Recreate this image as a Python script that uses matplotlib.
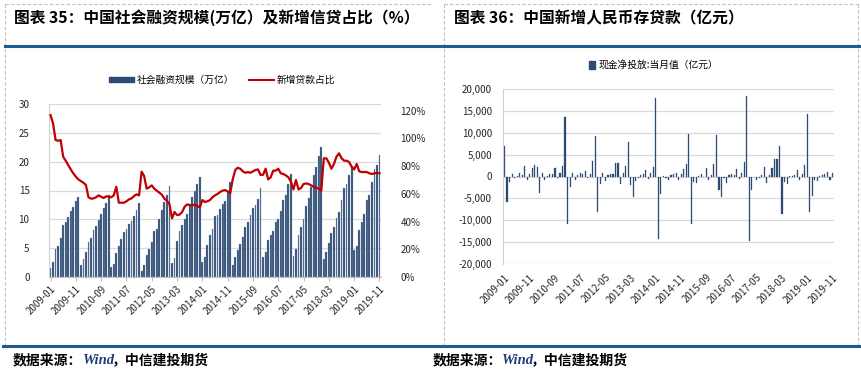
import matplotlib
matplotlib.use('Agg')
import matplotlib.pyplot as plt
from matplotlib.lines import Line2D
from matplotlib.patches import Patch
from matplotlib.ticker import FuncFormatter
import numpy as np

plt.rcParams['font.family'] = ['Noto Sans CJK SC', 'DejaVu Sans']

# 月份 2009-01 ~ 2019-11
months = [f"{y}-{m:02d}" for y in range(2009, 2020) for m in range(1, 13)][:131]

# 社会融资规模 累计值（万亿）
tsf = [1.5, 2.6, 4.8, 5.3, 6.7, 9.0, 9.6, 10.4, 11.5, 12.1, 13.1, 13.9,
       2.0, 3.2, 4.4, 6.0, 6.8, 8.1, 8.8, 9.8, 11.0, 11.9, 12.9, 14.2,
       1.7, 2.3, 4.2, 5.4, 6.6, 7.8, 8.3, 9.2, 9.7, 10.5, 11.6, 12.8,
       1.0, 2.0, 3.8, 4.8, 6.0, 7.9, 8.4, 10.1, 11.6, 13.0, 14.3, 15.8,
       2.5, 3.3, 6.2, 7.9, 9.1, 10.1, 11.0, 12.4, 13.9, 14.9, 16.1, 17.3,
       2.6, 3.5, 5.6, 7.2, 8.3, 10.5, 10.8, 11.8, 12.6, 13.2, 14.8, 16.4,
       2.0, 3.4, 4.6, 5.8, 6.9, 8.6, 9.6, 10.7, 11.9, 12.4, 13.6, 15.4,
       3.5, 4.3, 6.5, 7.3, 7.9, 9.6, 10.0, 11.5, 13.4, 14.3, 16.2, 17.8,
       3.6, 4.8, 7.2, 8.7, 10.0, 12.3, 13.7, 15.6, 17.7, 19.0, 20.9, 22.6,
       3.1, 4.3, 5.9, 7.6, 8.6, 10.2, 11.3, 13.3, 15.4, 16.1, 17.7, 19.3,
       4.6, 5.3, 8.1, 9.5, 11.0, 13.4, 14.3, 16.4, 18.7, 19.5, 21.2]

# 新增贷款占比（%）
loan_ratio = [116.8, 110.8, 98.8, 98.3, 98.8, 86.8, 83.9, 80.8, 77.6, 74.8, 72.4, 70.4,
              69.2, 68.0, 66.3, 57.5, 56.5, 56.7, 57.5, 58.9, 57.9, 57.0, 58.2, 57.9,
              57.5, 58.9, 65.1, 53.6, 53.6, 53.6, 54.6, 56.0, 56.7, 58.4, 59.6, 58.9,
              76.0, 72.8, 63.7, 64.7, 66.1, 63.7, 62.3, 60.8, 59.4, 56.5, 55.0, 52.6,
              42.3, 46.9, 44.7, 45.0, 46.9, 50.7, 52.4, 51.9, 51.7, 52.2, 51.2, 50.2,
              55.5, 54.1, 54.6, 55.5, 57.5, 58.9, 59.9, 61.3, 62.3, 62.7, 61.8, 60.3,
              70.4, 77.2, 78.8, 78.1, 76.2, 75.2, 75.7, 75.2, 76.2, 77.2, 77.6, 73.6,
              73.8, 78.1, 70.4, 71.9, 76.7, 76.7, 78.1, 74.8, 74.3, 73.3, 71.9, 68.8,
              63.2, 70.0, 63.2, 64.2, 67.1, 67.5, 67.1, 66.1, 65.1, 64.4, 63.7, 62.3,
              85.6, 85.6, 82.5, 78.1, 81.5, 86.8, 89.2, 85.8, 83.9, 83.9, 82.9, 79.6,
              77.6, 81.5, 76.2, 75.7, 75.7, 75.7, 74.8, 74.3, 74.8, 75.2, 74.8]

# 现金净投放:当月值（亿元）
cash = [6900, -5900, -1300, 500, -400, 200, 700, 300, 2400, -900, 600, 1900,
        2600, 2200, -3700, 700, -900, 100, 600, 500, 2000, -300, 700, 2400,
        13500, -10800, -2300, 800, -800, 400, 700, 600, 1300, -400, 500, 3500,
        9200, -8100, -1800, 700, -1100, 300, 500, 500, 3200, 3200, -1800, 900,
        2400, 7800, -2000, -4600, -1100, -300, 400, 500, 1500, -500, 800, 2200,
        17900, -14200, -4000, 200, -400, -800, 400, 600, 900, -900, 500, 1800,
        2900, 9800, -10800, -1300, -1500, 100, 600, -200, 2000, -800, 300, 2900,
        9500, -3100, -4600, -400, -1500, 300, 500, 300, 1800, -600, 700, 3400,
        18300, -14800, -3100, -200, -800, -400, 400, 2200, -1400, 400, 2000, 4100,
        4100, 7000, -8600, -1200, -1600, 100, 200, 300, 1500, -800, 600, 2700,
        14300, -8000, -4500, -900, -1100, 100, 300, 500, 1100, -800, 800]

navy = '#2D4A72'
red = '#C00000'
grid_c = '#D9D9D9'
tick_c = '#262626'
x = np.arange(len(months))
tick_idx = list(range(0, len(months), 10))

fig = plt.figure(figsize=(8.62, 3.72), dpi=100)

# 背景框、标题、蓝线
bg = fig.add_axes([0, 0, 1, 1])
bg.set_xlim(0, 862)
bg.set_ylim(372, 0)
bg.axis('off')
dash = dict(color='#BFBFBF', lw=0.8, ls=(0, (3, 2)))
bg.plot([5, 431], [4, 4], **dash)
bg.plot([5, 5], [4, 346], **dash)
bg.plot([444, 858], [4, 4], **dash)
bg.plot([444, 444], [4, 346], **dash)
bg.plot([858, 858], [4, 346], **dash)
bg.plot([5, 860], [46, 46], color='#1F5C8B', lw=2.2)
bg.plot([3, 862], [346, 346], color='#1F5C8B', lw=2.2)
bg.text(14, 18, '图表 35：中国社会融资规模(万亿）及新增信贷占比（%）',
        fontsize=11.3, fontweight='bold', va='center', ha='left', color='black')
bg.text(454, 18, '图表 36：中国新增人民币存贷款（亿元）',
        fontsize=11.3, fontweight='bold', va='center', ha='left', color='black')
# 数据来源（三段文字的起点）
for x0, x1, x2 in ((13, 83, 112), (433, 502, 531)):
    bg.text(x0, 360, '数据来源：', fontsize=10, fontweight='bold', va='center', ha='left')
    bg.text(x1, 360, 'Wind', fontsize=10.5, fontweight='bold', style='italic',
            family='Liberation Serif', color='#1F3D7A', va='center', ha='left')
    bg.text(x2, 360, '，中信建投期货', fontsize=10, fontweight='bold', va='center', ha='left')

# 左图
ax1 = fig.add_axes([49 / 862, 1 - 277 / 372, 332 / 862, 173 / 372])
ax1.bar(x, tsf, width=0.72, color=navy, edgecolor='#9AAAC0', linewidth=0.25, zorder=2)
ax1.set_ylim(0, 30)
ax1.set_yticks(range(0, 31, 5))
ax1.set_xlim(-0.6, len(months) - 0.4)
ax1.grid(axis='y', color=grid_c, lw=0.9, zorder=0)
ax1.set_xticks(tick_idx)
ax1.set_xticklabels([months[i] for i in tick_idx], rotation=45, ha='right',
                    rotation_mode='anchor', fontsize=7, color=tick_c)
ax1.tick_params(axis='y', length=0, labelsize=7, labelcolor=tick_c, pad=14)
ax1.tick_params(axis='x', length=3, color='#BFBFBF', pad=2)
for s in ('top', 'right'):
    ax1.spines[s].set_visible(False)
ax1.spines['left'].set_color('#D0D0D0')
ax1.spines['bottom'].set_color('#BFBFBF')

ax1b = ax1.twinx()
ax1b.plot(x, loan_ratio, color=red, lw=1.6, zorder=3)
ax1b.set_ylim(0, 124.8)
ax1b.set_yticks(range(0, 121, 20))
ax1b.yaxis.set_major_formatter(FuncFormatter(lambda v, p: f'{int(v)}%'))
ax1b.tick_params(axis='y', length=0, labelsize=7, labelcolor=tick_c, pad=14)
for s in ax1b.spines.values():
    s.set_visible(False)

handles = [Patch(facecolor=navy, edgecolor=navy),
           Line2D([0], [0], color=red, lw=1.5)]
fig.legend(handles, ['社会融资规模（万亿）', '新增贷款占比'], loc='center',
           bbox_to_anchor=(222 / 862, 1 - 80 / 372), ncol=2, frameon=False,
           fontsize=7, handlelength=2.6, handleheight=0.5, columnspacing=1.5,
           handletextpad=0.3)

# 右图
ax2 = fig.add_axes([503 / 862, 1 - 264 / 372, 331 / 862, 175 / 372])
ax2.bar(x, cash, width=0.45, color=navy, edgecolor=navy, linewidth=0.2, zorder=2)
ax2.set_ylim(-20000, 20000)
ax2.set_yticks(range(-20000, 20001, 5000))
ax2.yaxis.set_major_formatter(FuncFormatter(lambda v, p: f'{int(v):,}'))
ax2.set_xlim(-0.6, len(months) - 0.4)
ax2.grid(axis='y', color=grid_c, lw=0.9, zorder=0)
ax2.set_xticks(tick_idx)
ax2.set_xticklabels([months[i] for i in tick_idx], rotation=45, ha='right',
                    rotation_mode='anchor', fontsize=7, color=tick_c)
ax2.tick_params(axis='y', length=0, labelsize=7, labelcolor=tick_c, pad=8)
ax2.tick_params(axis='x', length=0, pad=6)
for s in ('top', 'right', 'bottom'):
    ax2.spines[s].set_visible(False)
ax2.spines['left'].set_color('#D0D0D0')

fig.legend([Patch(facecolor=navy, edgecolor=navy)], ['现金净投放:当月值（亿元）'],
           loc='center', bbox_to_anchor=(654 / 862, 1 - 65 / 372), frameon=False,
           fontsize=7, handlelength=0.6, handleheight=0.9, handletextpad=0.4)

fig.savefig('out.png', dpi=100)
